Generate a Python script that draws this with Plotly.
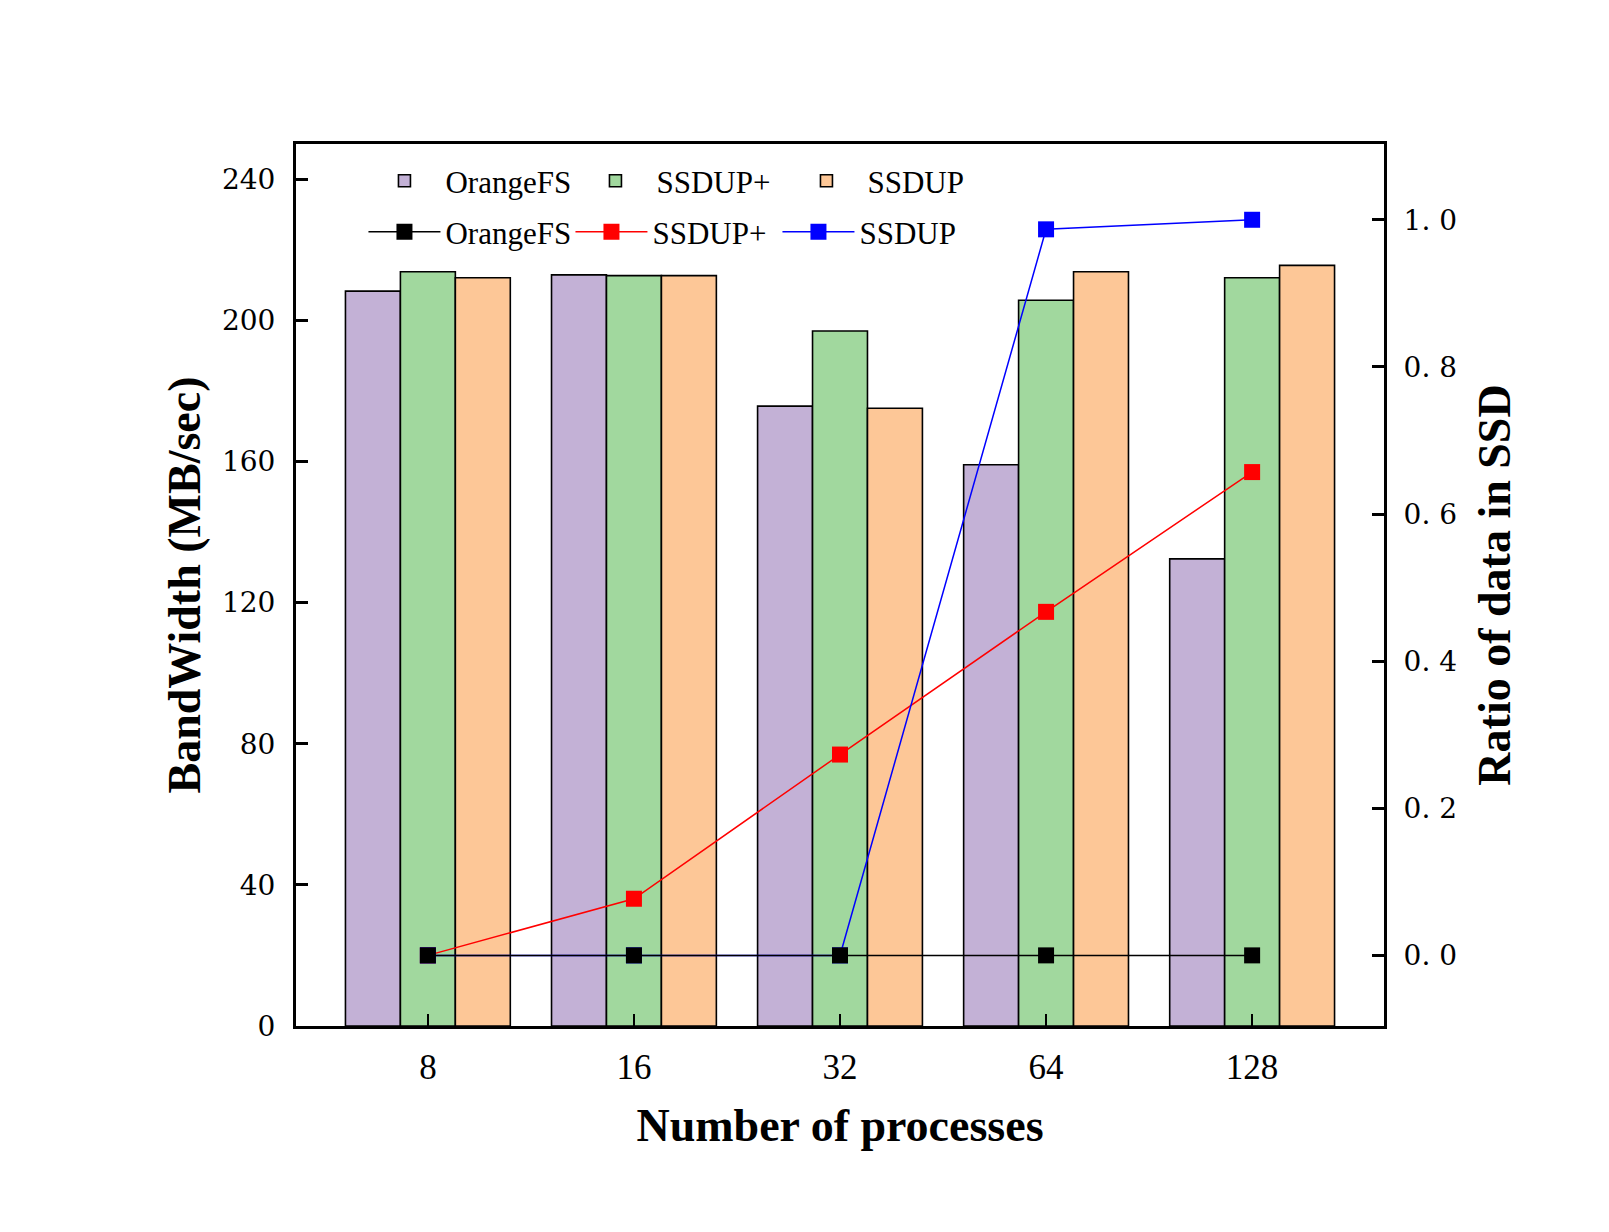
import plotly.graph_objects as go

categories = ["8", "16", "32", "64", "128"]

bw_orangefs = [208.3, 212.9, 175.7, 159.1, 132.4]
bw_ssdup_plus = [213.8, 212.7, 197.0, 205.7, 212.1]
bw_ssdup = [212.1, 212.7, 175.1, 213.8, 215.6]

ratio_orangefs = [0.0, 0.0, 0.0, 0.0, 0.0]
ratio_ssdup_plus = [0.0, 0.077, 0.273, 0.467, 0.657]
ratio_ssdup = [0.0, 0.0, 0.0, 0.987, 1.0]

y_ticks = [0, 40, 80, 120, 160, 200, 240]
y2_ticks = [0.0, 0.2, 0.4, 0.6, 0.8, 1.0]
y2_ticktext = ["0. 0", "0. 2", "0. 4", "0. 6", "0. 8", "1. 0"]

PURPLE = "#C3B1D6"
GREEN = "#A1D89E"
ORANGE = "#FDC797"

SERIF = "Liberation Serif, Times New Roman, serif"
WIDE = "DejaVu Serif, serif"

fig = go.Figure()

for name, vals, col in [("OrangeFS", bw_orangefs, PURPLE),
                        ("SSDUP+", bw_ssdup_plus, GREEN),
                        ("SSDUP", bw_ssdup, ORANGE)]:
    fig.add_trace(go.Bar(
        x=categories, y=vals, name=name,
        marker=dict(color=col, line=dict(color="black", width=1.6)),
        legend="legend", yaxis="y",
    ))

for name, vals, col, rank in [("SSDUP+", ratio_ssdup_plus, "#FF0000", 2),
                              ("SSDUP", ratio_ssdup, "#0000FF", 3),
                              ("OrangeFS", ratio_orangefs, "#000000", 1)]:
    fig.add_trace(go.Scatter(
        x=categories, y=vals, name=name, mode="lines+markers",
        line=dict(color=col, width=1.5),
        marker=dict(symbol="square", size=16, color=col),
        yaxis="y2", legend="legend2", legendrank=rank,
    ))

fig.update_layout(
    width=1609, height=1232,
    margin=dict(l=296, r=225, t=144, b=206, autoexpand=False),
    paper_bgcolor="white", plot_bgcolor="white",
    barmode="group", bargap=0.2, bargroupgap=0,
    font=dict(family=SERIF, color="black"),
    xaxis=dict(
        type="category", range=[-0.64, 4.64],
        showline=True, linecolor="black", linewidth=3, mirror=True,
        ticks="inside", ticklen=12, tickwidth=2, tickcolor="black",
        tickfont=dict(family=SERIF, size=35), ticklabelstandoff=8,
        showgrid=False, zeroline=False,
        title=dict(text="<b>Number of processes</b>",
                   font=dict(family=SERIF, size=46), standoff=23),
    ),
    yaxis=dict(
        range=[0, 250], tickvals=y_ticks,
        showline=True, linecolor="black", linewidth=3,
        ticks="inside", ticklen=12, tickwidth=3, tickcolor="black",
        tickfont=dict(family=WIDE, size=28), ticklabelstandoff=12,
        showgrid=False, zeroline=False,
        title=dict(text="<b>BandWidth (MB/sec)</b>",
                   font=dict(family=SERIF, size=46), standoff=7),
    ),
    yaxis2=dict(
        overlaying="y", side="right", range=[-0.096, 1.103],
        tickvals=y2_ticks, ticktext=y2_ticktext,
        showline=True, linecolor="black", linewidth=3,
        ticks="inside", ticklen=12, tickwidth=3, tickcolor="black",
        tickfont=dict(family=WIDE, size=28), ticklabelstandoff=11,
        showgrid=False, zeroline=False,
        title=dict(text="<b>Ratio of data in SSD</b>",
                   font=dict(family=SERIF, size=46), standoff=22),
    ),
    legend=dict(
        orientation="h", x=0.062, y=0.958, xanchor="left", yanchor="middle",
        font=dict(family=SERIF, size=31), bgcolor="rgba(0,0,0,0)",
        entrywidth=124, entrywidthmode="pixels", itemwidth=72,
        traceorder="normal",
    ),
    legend2=dict(
        orientation="h", x=0.062, y=0.9, xanchor="left", yanchor="middle",
        font=dict(family=SERIF, size=31), bgcolor="rgba(0,0,0,0)",
        entrywidth=120, entrywidthmode="pixels", itemwidth=72,
        traceorder="normal",
    ),
)

fig.write_html("out.html")
